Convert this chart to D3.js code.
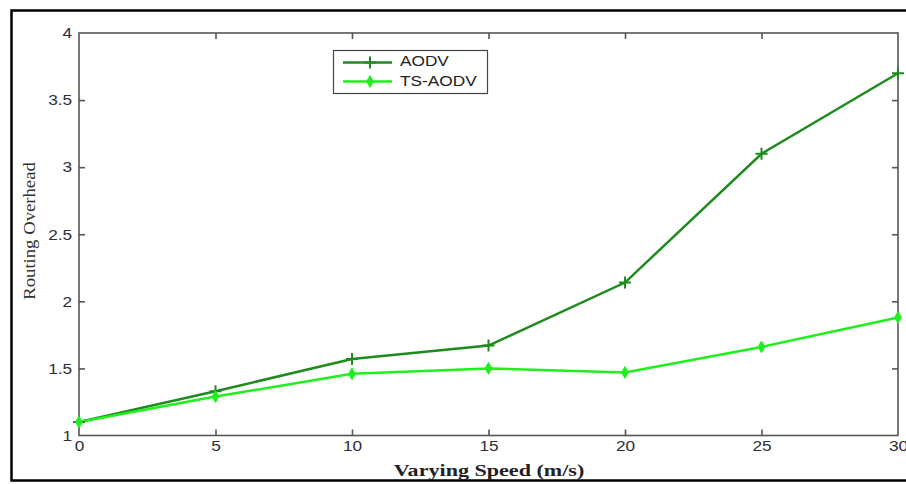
<!DOCTYPE html>
<html>
<head>
<meta charset="utf-8">
<script src="https://cdn.jsdelivr.net/npm/d3@7"></script>
<style>
  body { margin: 0; background: #fff; }
  svg { display: block; }
</style>
</head>
<body>
<svg id="chart" width="906" height="484"></svg>
<script>
// data
var speeds = [0, 5, 10, 15, 20, 25, 30];
var aodv = [1.1, 1.33, 1.57, 1.67, 2.14, 3.1, 3.7];
var tsAodv = [1.1, 1.29, 1.46, 1.50, 1.47, 1.66, 1.88];
var xTicks = [0, 5, 10, 15, 20, 25, 30];
var yTicks = [1, 1.5, 2, 2.5, 3, 3.5, 4];

var svg = d3.select("#chart");
// plot box edges (don't call it "top", that's window.top)
var plotL = 79, plotR = 898, plotT = 33, plotB = 435.5;
// the original image is stretched sideways, text too
var stretch = 1.15;

// outer frame
svg.append("rect")
    .attr("x", 11.5).attr("y", 10.5)
    .attr("width", 904).attr("height", 470)
    .attr("fill", "none").attr("stroke", "#000").attr("stroke-width", 2.5);

var x = d3.scaleLinear().domain([0, 30]).range([plotL, plotR]);
var y = d3.scaleLinear().domain([1, 4]).range([plotB, plotT]);

var axisColor = "#555";

// box
svg.append("rect")
    .attr("x", plotL).attr("y", plotT)
    .attr("width", plotR - plotL).attr("height", plotB - plotT)
    .attr("fill", "none").attr("stroke", axisColor).attr("stroke-width", 1.6);

// inward ticks on all four sides, matlab style
function styleAxis(g) {
    g.select(".domain").remove();
    g.selectAll(".tick line").attr("stroke", axisColor).attr("stroke-width", 1.6);
    g.selectAll(".tick text")
        .attr("fill", "#2e2e38")
        .attr("font-family", "Liberation Sans, Arial, sans-serif")
        .attr("font-size", 15)
        .attr("transform", "scale(" + stretch + ",1)");
}

svg.append("g")
    .attr("transform", "translate(0," + plotB + ")")
    .call(d3.axisBottom(x).tickValues(xTicks).tickSize(-6).tickPadding(5).tickFormat(d3.format("d")))
    .call(styleAxis);

svg.append("g")
    .attr("transform", "translate(0," + plotT + ")")
    .call(d3.axisTop(x).tickValues(xTicks).tickSize(-6).tickFormat(""))
    .call(styleAxis);

svg.append("g")
    .attr("transform", "translate(" + plotL + ",0)")
    .call(d3.axisLeft(y).tickValues(yTicks).tickSize(-6).tickPadding(6).tickFormat(function(d) { return String(d); }))
    .call(styleAxis);

svg.append("g")
    .attr("transform", "translate(" + plotR + ",0)")
    .call(d3.axisRight(y).tickValues(yTicks).tickSize(-6).tickFormat(""))
    .call(styleAxis);

// hide ticks sitting on the corners
svg.selectAll(".tick").filter(function(d) { return d === 0 || d === 30 || d === 1 || d === 4; })
    .select("line").remove();

// axis titles
svg.append("text")
    .attr("transform", "translate(489,476) scale(1.3,1)")
    .attr("text-anchor", "middle")
    .attr("font-family", "Liberation Serif, Times New Roman, serif")
    .attr("font-weight", "bold")
    .attr("font-size", 17)
    .attr("fill", "#222")
    .text("Varying Speed (m/s)");

svg.append("text")
    .attr("transform", "translate(35,231) rotate(-90) scale(1.1,1)")
    .attr("text-anchor", "middle")
    .attr("font-family", "Liberation Serif, Times New Roman, serif")
    .attr("font-size", 17)
    .attr("fill", "#333")
    .text("Routing Overhead");

var line = d3.line()
    .x(function(d) { return x(d[0]); })
    .y(function(d) { return y(d[1]); });

var aodvColor = "#1f8b1f";
var tsColor = "#1ef01e";

var aodvPts = speeds.map(function(s, i) { return [s, aodv[i]]; });
var tsPts = speeds.map(function(s, i) { return [s, tsAodv[i]]; });

svg.append("path").datum(aodvPts)
    .attr("d", line).attr("fill", "none")
    .attr("stroke", aodvColor).attr("stroke-width", 2.5);

svg.append("path").datum(tsPts)
    .attr("d", line).attr("fill", "none")
    .attr("stroke", tsColor).attr("stroke-width", 2.5);

var diamond = d3.symbol().type(d3.symbolDiamond).size(40);

function drawPlus(g, px, py, color) {
    g.append("path")
        .attr("d", "M" + (px - 6) + "," + py + "H" + (px + 6) + "M" + px + "," + (py - 6) + "V" + (py + 6))
        .attr("stroke", color).attr("stroke-width", 2);
}

var markers = svg.append("g");
aodvPts.forEach(function(d) { drawPlus(markers, x(d[0]), y(d[1]), aodvColor); });
markers.selectAll(".dia").data(tsPts).enter().append("path")
    .attr("class", "dia")
    .attr("d", diamond)
    .attr("transform", function(d) { return "translate(" + x(d[0]) + "," + y(d[1]) + ")"; })
    .attr("fill", tsColor).attr("stroke", tsColor);

// legend
var legend = svg.append("g").attr("transform", "translate(333,50)");
legend.append("rect")
    .attr("x", 0.5).attr("y", 0.5).attr("width", 154).attr("height", 43)
    .attr("fill", "#fff").attr("stroke", "#444").attr("stroke-width", 1.2);

var entries = [
    { name: "AODV", color: aodvColor, mark: "plus" },
    { name: "TS-AODV", color: tsColor, mark: "diamond" }
];

entries.forEach(function(e, i) {
    var ly = 12.5 + i * 19;
    legend.append("line")
        .attr("x1", 10).attr("x2", 59).attr("y1", ly).attr("y2", ly)
        .attr("stroke", e.color).attr("stroke-width", 2.5);
    if (e.mark === "plus") {
        drawPlus(legend, 37, ly, e.color);
    } else {
        legend.append("path").attr("d", diamond)
            .attr("transform", "translate(37," + ly + ")")
            .attr("fill", e.color).attr("stroke", e.color);
    }
    legend.append("text")
        .attr("transform", "translate(67," + (ly + 3 + 1.5 * i) + ") scale(" + stretch + ",1)")
        .attr("font-family", "Liberation Sans, Arial, sans-serif")
        .attr("font-size", 15)
        .attr("fill", "#222")
        .text(e.name);
});
</script>
</body>
</html>
